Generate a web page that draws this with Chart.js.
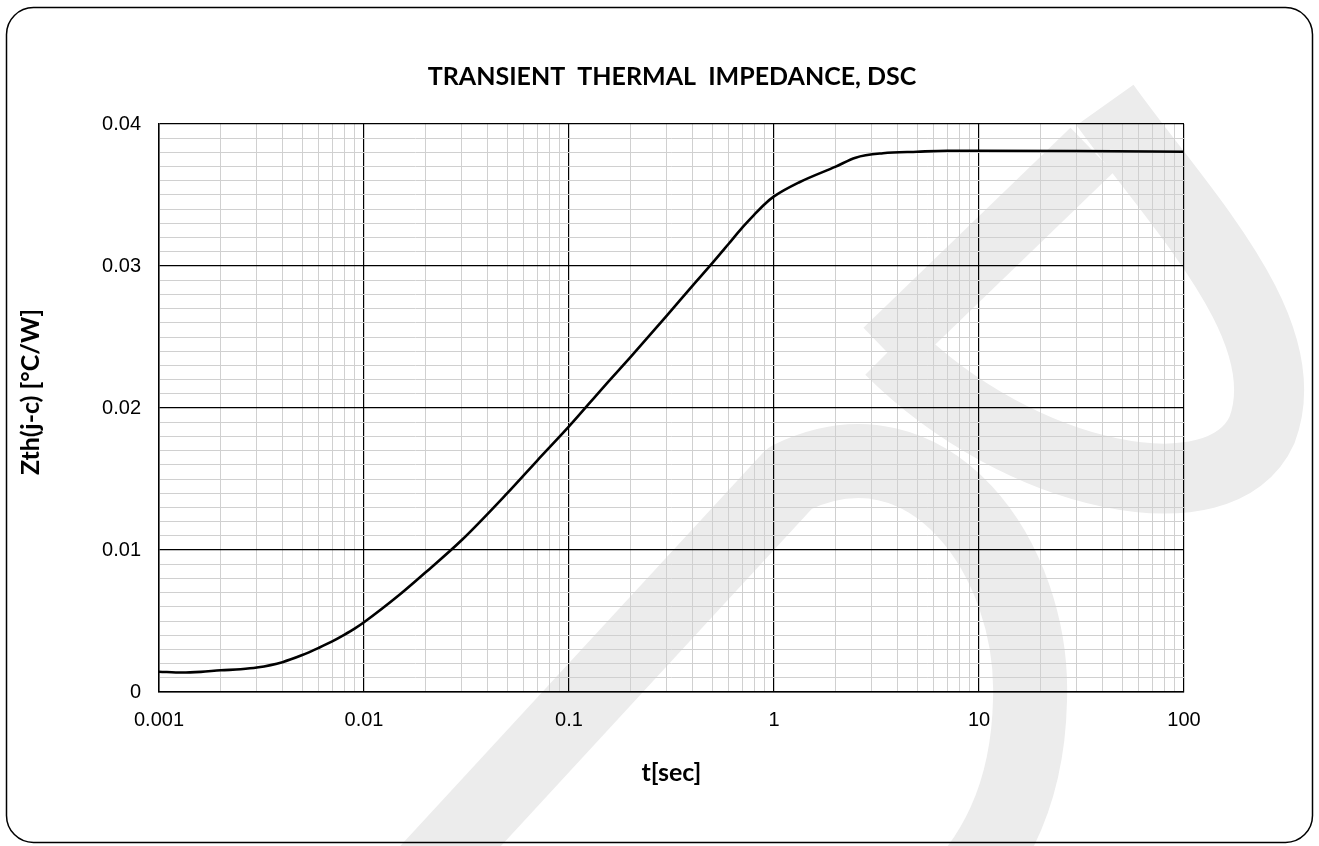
<!DOCTYPE html>
<html lang="en">
<head>
    <meta charset="UTF-8">
    <title>Transient Thermal Impedance, DSC</title>
    <script src="https://cdn.jsdelivr.net/npm/chart.js"></script>
    <style>
        html, body { margin: 0; padding: 0; background: #fff; }
        .chart-container { position: relative; width: 1319px; height: 846px; }
    </style>
</head>
<body>
    <div class="chart-container"><canvas id="zth-chart"></canvas></div>

    <script>
        // curve: t [s] vs Zth(j-c) [°C/W]
        const timeSec = [0.001, 0.0013, 0.0016, 0.002, 0.0025, 0.003, 0.004, 0.005, 0.006, 0.007, 0.008, 0.009,
            0.01, 0.015, 0.02, 0.03, 0.05, 0.07, 0.1, 0.15, 0.2, 0.3, 0.4, 0.5, 0.6, 0.7, 0.8, 0.9,
            1, 1.33, 2, 2.5, 3.4, 5, 7, 10, 30, 100];
        const zthJc = [0.00143, 0.00137, 0.00142, 0.00153, 0.00160, 0.00172, 0.00210, 0.00260, 0.00310, 0.00356, 0.00402, 0.00446,
            0.00491, 0.00688, 0.00843, 0.0107, 0.0140, 0.0163, 0.0187, 0.0216, 0.0236, 0.0265, 0.0286, 0.0302, 0.03155, 0.0327, 0.0336, 0.03435,
            0.0349, 0.0359, 0.0370, 0.03763, 0.03794, 0.03805, 0.03812, 0.03812, 0.0381, 0.03805];

        const xDecades = [0.001, 0.01, 0.1, 1, 10, 100];
        const xTickLabels = ['0.001', '0.01', '0.1', '1', '10', '100'];
        const yTickLabels = ['0', '0.01', '0.02', '0.03', '0.04'];

        const chartTitle = 'TRANSIENT  THERMAL  IMPEDANCE, DSC';
        const xTitle = 't[sec]';
        const yTitle = 'Zth(j-c) [°C/W]';

        const isDecade = v => xDecades.some(d => Math.abs(v / d - 1) < 1e-6);
        const isMajorY = v => Math.abs(v * 100 - Math.round(v * 100)) < 1e-6;

        // white page, the faint watermark letters behind the plot, and the rounded frame
        const framePlugin = {
            id: 'frame',
            beforeDraw(chart) {
                const c = chart.ctx;
                c.save();
                c.fillStyle = '#fff';
                c.fillRect(0, 0, chart.width, chart.height);

                c.strokeStyle = '#ececec';
                c.lineCap = 'butt';
                c.lineJoin = 'round';
                // upper right letter
                c.lineWidth = 62;
                c.beginPath();
                c.moveTo(885, 350);
                c.lineTo(1092, 150);
                c.stroke();
                c.lineWidth = 70;
                c.beginPath();
                c.moveTo(1105, 105);
                c.bezierCurveTo(1180, 210, 1300, 330, 1262, 430);
                c.bezierCurveTo(1222, 520, 1020, 480, 890, 350);
                c.stroke();
                // big letter in the lower middle
                c.lineWidth = 74;
                c.beginPath();
                c.moveTo(410, 890);
                c.lineTo(790, 478);
                c.bezierCurveTo(930, 410, 1035, 560, 1030, 700);
                c.bezierCurveTo(1028, 800, 990, 860, 950, 900);
                c.stroke();

                c.beginPath();
                c.roundRect(6.5, 7.5, 1306, 835, 27);
                c.strokeStyle = '#000';
                c.lineWidth = 1.5;
                c.stroke();
                c.restore();
            }
        };

        // chart title and axis titles, placed like the Excel original
        const titlesPlugin = {
            id: 'titles',
            afterDraw(chart) {
                const c = chart.ctx;
                const area = chart.chartArea;
                c.save();
                c.fillStyle = '#000';
                c.textAlign = 'center';
                c.textBaseline = 'middle';
                c.font = 'bold 25px Lato';
                c.fillText(chartTitle, 672, 77);
                c.fillText(xTitle, (area.left + area.right) / 2, 773);
                c.translate(31, 392);
                c.rotate(-Math.PI / 2);
                c.fillText(yTitle, 0, 0);
                c.restore();
            }
        };

        function buildLogTicks(scale) {
            const ticks = [];
            xDecades.forEach((d, i) => {
                ticks.push({ value: d, major: true });
                if (i < xDecades.length - 1) {
                    for (let k = 2; k <= 9; k++) ticks.push({ value: d * k });
                }
            });
            scale.ticks = ticks;
        }

        new Chart(document.getElementById('zth-chart'), {
            type: 'line',
            data: {
                datasets: [{
                    data: timeSec.map((t, i) => ({ x: t, y: zthJc[i] })),
                    borderColor: '#000',
                    borderWidth: 2.6,
                    pointRadius: 0,
                    fill: false,
                    cubicInterpolationMode: 'monotone'
                }]
            },
            options: {
                responsive: true,
                maintainAspectRatio: false,
                animation: false,
                layout: { padding: { left: 10, right: 135, top: 124, bottom: 56 } },
                plugins: {
                    legend: { display: false },
                    tooltip: { enabled: false },
                    title: { display: false }
                },
                scales: {
                    x: {
                        type: 'logarithmic',
                        min: 0.001,
                        max: 100,
                        afterBuildTicks: buildLogTicks,
                        afterFit(scale) { scale.height = 98; },
                        border: { display: true, color: '#000', width: 1.5 },
                        grid: {
                            drawTicks: false,
                            color: ctx => isDecade(ctx.tick.value) ? '#000' : '#d0d0d0',
                            lineWidth: ctx => isDecade(ctx.tick.value) ? 1.2 : 1
                        },
                        ticks: {
                            autoSkip: false,
                            maxRotation: 0,
                            padding: 16,
                            color: '#000',
                            font: { family: 'Liberation Sans', size: 20 },
                            callback: v => {
                                const i = xDecades.findIndex(d => Math.abs(v / d - 1) < 1e-6);
                                return i >= 0 ? xTickLabels[i] : '';
                            }
                        }
                    },
                    y: {
                        min: 0,
                        max: 0.04,
                        afterFit(scale) { scale.width = 149; },
                        border: { display: true, color: '#000', width: 1.5 },
                        grid: {
                            drawTicks: false,
                            color: ctx => isMajorY(ctx.tick.value) ? '#000' : '#d0d0d0',
                            lineWidth: ctx => isMajorY(ctx.tick.value) ? 1.2 : 1
                        },
                        ticks: {
                            stepSize: 0.001,
                            autoSkip: false,
                            padding: 18,
                            color: '#000',
                            font: { family: 'Liberation Sans', size: 20 },
                            callback: v => isMajorY(v) ? yTickLabels[Math.round(v * 100)] : ''
                        }
                    }
                }
            },
            plugins: [framePlugin, titlesPlugin]
        });
    </script>
</body>
</html>
